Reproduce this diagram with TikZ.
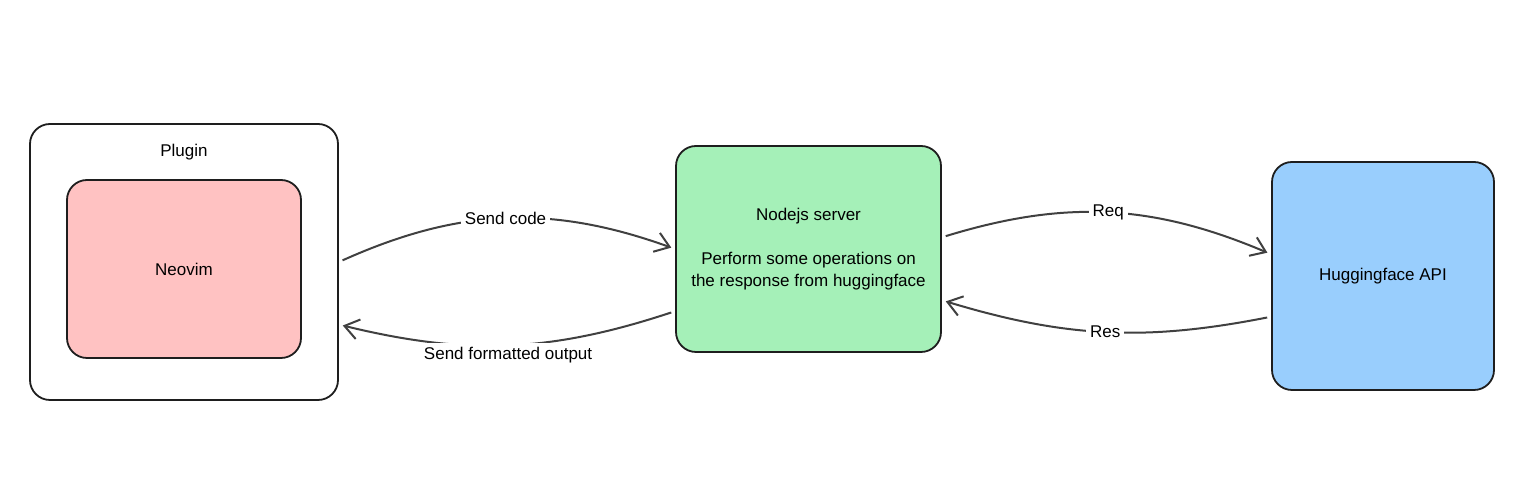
\documentclass[tikz,border=0pt]{standalone}
\usepackage{fontspec}
\setmainfont{Liberation Sans}
\usetikzlibrary{arrows.meta}

\definecolor{inkc}{HTML}{1E1E1E}
\definecolor{neored}{HTML}{FFC2C2}
\definecolor{srvgreen}{HTML}{A5F0B8}
\definecolor{apiblue}{HTML}{99CEFD}

\begin{document}
\begin{tikzpicture}[x=0.5pt, y=0.5pt,
    box/.style={draw=inkc, line width=0.9pt, rounded corners=10pt,
        font=\fontsize{8.5}{11}\selectfont, align=center},
    flow/.style={draw=inkc!85, line width=1pt, shorten <=2pt, shorten >=2pt,
        -{Straight Barb[length=7pt, width=10pt]}},
    tag/.style={fill=white, font=\fontsize{8.5}{10}\selectfont, inner sep=2pt}
]
    \useasboundingbox (0,0) rectangle (1533,492);
    \node[box, minimum width=154pt, minimum height=138pt] (plugin) at (184,230) {};
    \node[font=\fontsize{8.5}{10}\selectfont] (pluginlbl) at (184,340) {Plugin};
    \node[box, fill=neored, minimum width=117pt, minimum height=89pt] (neovim) at (184,223) {Neovim};
    \node[box, fill=srvgreen, minimum width=132.5pt, minimum height=103pt] (server) at (808.5,243)
        {Nodejs server\\[11pt]Perform some operations on\\the response from huggingface};
    \node[box, fill=apiblue, minimum width=111pt, minimum height=114pt] (api) at (1383,216) {Huggingface API};

    \draw[flow] (plugin.east) to[bend left=22] node[tag] {Send code} (server.west);
    \draw[flow] (server.205) to[bend left=16] node[tag, yshift=-5pt] {Send formatted output} (plugin.-22);
    \draw[flow] (server.5) to[bend left=20] node[tag] {Req} (api.169);
    \draw[flow] (api.200) to[bend left=14] node[tag] {Res} (server.-21);
\end{tikzpicture}
\end{document}
